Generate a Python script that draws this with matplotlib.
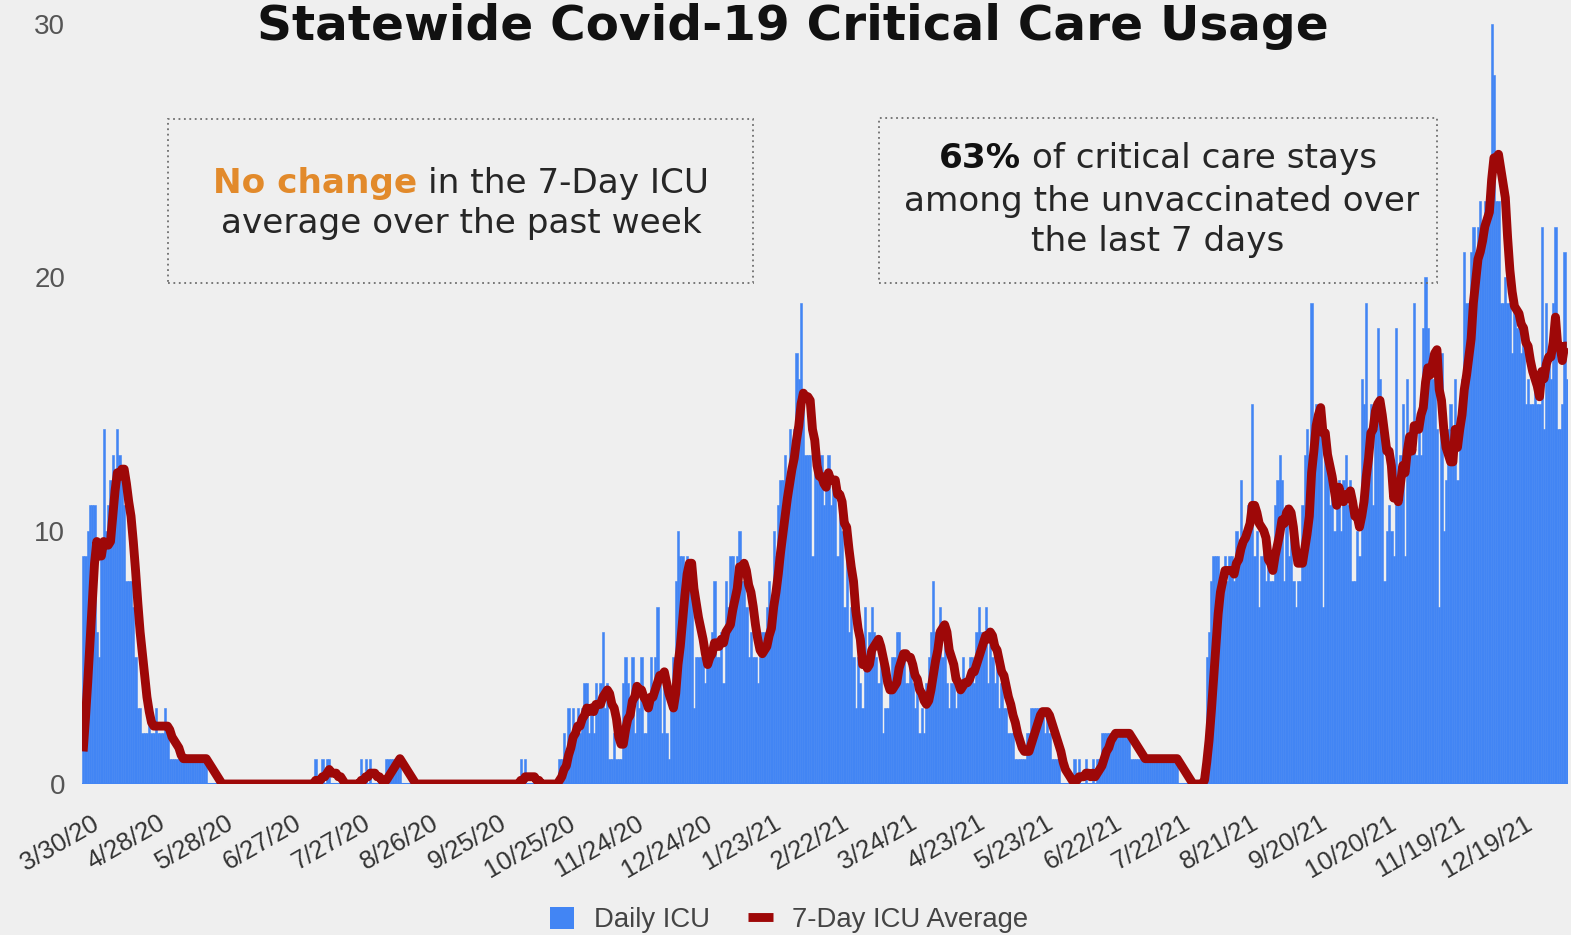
import numpy as np
import pandas as pd
import matplotlib
matplotlib.use("Agg")
import matplotlib.pyplot as plt
from matplotlib.patches import Rectangle, Patch
from matplotlib.lines import Line2D
from matplotlib.transforms import ScaledTranslation

# ---------------- data ----------------
start_date = "2020-03-30"

daily_icu = [
    # 0-59
    9, 9, 10, 11, 11, 11, 6, 5, 9, 14,
    10, 11, 12, 13, 12, 14, 13, 12, 11, 8,
    8, 8, 7, 5, 3, 3, 2, 2, 2, 3,
    2, 2, 3, 2, 2, 2, 3, 2, 1, 1,
    1, 1, 1, 1, 1, 1, 1, 1, 1, 1,
    1, 1, 1, 1, 1, 0, 0, 0, 0, 0,
    # 60-119
    0, 0, 0, 0, 0, 0, 0, 0, 0, 0,
    0, 0, 0, 0, 0, 0, 0, 0, 0, 0,
    0, 0, 0, 0, 0, 0, 0, 0, 0, 0,
    0, 0, 0, 0, 0, 0, 0, 0, 0, 0,
    0, 0, 1, 0, 0, 1, 0, 1, 1, 0,
    0, 0, 0, 0, 0, 0, 0, 0, 0, 0,
    # 120-179
    0, 0, 1, 0, 1, 0, 1, 0, 0, 0,
    0, 0, 0, 1, 1, 1, 1, 1, 1, 1,
    0, 0, 0, 0, 0, 0, 0, 0, 0, 0,
    0, 0, 0, 0, 0, 0, 0, 0, 0, 0,
    0, 0, 0, 0, 0, 0, 0, 0, 0, 0,
    0, 0, 0, 0, 0, 0, 0, 0, 0, 0,
    # 180-239
    0, 0, 0, 0, 0, 0, 0, 0, 0, 0,
    0, 0, 1, 0, 1, 0, 0, 0, 0, 0,
    0, 0, 0, 0, 0, 0, 0, 0, 0, 1,
    1, 2, 1, 3, 2, 3, 2, 3, 2, 3,
    4, 4, 2, 3, 2, 4, 3, 4, 6, 3,
    4, 1, 1, 2, 1, 1, 1, 4, 5, 4,
    # 240-299
    3, 5, 2, 4, 3, 5, 2, 2, 3, 5,
    4, 5, 7, 4, 2, 4, 2, 1, 3, 5,
    8, 10, 9, 9, 8, 9, 8, 8, 3, 5,
    5, 5, 6, 4, 5, 5, 6, 8, 5, 5,
    6, 4, 8, 7, 9, 9, 8, 9, 10, 8,
    8, 7, 5, 6, 5, 5, 4, 5, 6, 6,
    # 300-359
    7, 8, 7, 10, 9, 11, 12, 12, 13, 12,
    14, 13, 14, 17, 16, 19, 15, 13, 13, 13,
    9, 13, 12, 12, 13, 11, 12, 13, 11, 12,
    12, 9, 11, 10, 7, 10, 6, 7, 5, 3,
    5, 4, 3, 7, 5, 6, 7, 6, 5, 4,
    5, 2, 3, 3, 4, 5, 5, 6, 6, 5,
    # 360-419
    5, 4, 4, 5, 4, 3, 4, 2, 3, 2,
    4, 5, 6, 8, 6, 6, 7, 5, 6, 4,
    3, 4, 4, 3, 4, 4, 5, 4, 4, 5,
    5, 4, 6, 7, 6, 6, 7, 4, 6, 5,
    4, 5, 3, 4, 3, 3, 2, 2, 2, 1,
    1, 1, 1, 1, 2, 2, 3, 3, 3, 3,
    # 420-479
    3, 3, 2, 3, 2, 1, 1, 1, 1, 0,
    0, 0, 0, 0, 0, 1, 0, 1, 0, 0,
    1, 0, 0, 1, 0, 1, 1, 2, 2, 2,
    2, 2, 2, 2, 2, 2, 2, 2, 2, 2,
    1, 1, 1, 1, 1, 1, 1, 1, 1, 1,
    1, 1, 1, 1, 1, 1, 1, 1, 1, 1,
    # 480-539
    1, 0, 0, 0, 0, 0, 0, 0, 0, 0,
    0, 0, 1, 5, 6, 8, 9, 9, 9, 7,
    8, 9, 8, 9, 9, 8, 10, 9, 12, 10,
    10, 11, 10, 15, 9, 10, 7, 9, 10, 8,
    9, 8, 8, 11, 12, 13, 12, 8, 11, 9,
    10, 8, 7, 8, 8, 11, 13, 14, 13, 19,
    # 540-599
    14, 15, 14, 15, 7, 13, 13, 11, 12, 10,
    11, 12, 10, 12, 13, 11, 12, 8, 8, 10,
    9, 16, 15, 19, 13, 15, 11, 14, 18, 16,
    15, 8, 10, 11, 10, 9, 18, 12, 13, 15,
    9, 16, 13, 14, 19, 13, 14, 13, 18, 20,
    18, 17, 16, 17, 14, 7, 17, 10, 12, 14,
    # 600-651
    15, 14, 16, 12, 15, 16, 21, 19, 19, 21,
    22, 21, 22, 23, 22, 23, 23, 24, 30, 28,
    23, 23, 19, 19, 20, 19, 19, 17, 19, 18,
    18, 17, 18, 15, 16, 15, 15, 16, 15, 15,
    22, 14, 19, 17, 16, 19, 22, 14, 14, 15,
    21, 16,
]

tick_labels = ["3/30/20", "4/28/20", "5/28/20", "6/27/20", "7/27/20", "8/26/20",
               "9/25/20", "10/25/20", "11/24/20", "12/24/20", "1/23/21", "2/22/21",
               "3/24/21", "4/23/21", "5/23/21", "6/22/21", "7/22/21", "8/21/21",
               "9/20/21", "10/20/21", "11/19/21", "12/19/21"]
y_ticks = [0, 10, 20, 30]

title_text = "Statewide Covid-19 Critical Care Usage"
series_names = ["Daily ICU", "7-Day ICU Average"]

# ---------------- style ----------------
W, H = 1571, 935
BG = "#EFEFEF"
BLUE = "#4285F4"
RED = "#9E0808"
ORANGE = "#E28A2B"
TEXT = "#262626"

n = len(daily_icu)
x = np.arange(n)
avg = pd.Series(daily_icu, dtype=float).rolling(7, min_periods=1).sum() / 7.0
start = pd.Timestamp(start_date)
tick_pos = [(pd.to_datetime(t, format="%m/%d/%y") - start).days for t in tick_labels]

fig = plt.figure(figsize=(W / 100, H / 100), dpi=100, facecolor=BG)
ax = fig.add_axes([82 / W, 1 - 784 / H, (1568 - 82) / W, (784 - 24) / H])
ax.set_facecolor(BG)

ax.bar(x, daily_icu, width=1.0, color=BLUE, edgecolor=BLUE, linewidth=0.4, zorder=2)
ax.plot(x, avg, color=RED, lw=6.4, solid_joinstyle="round", solid_capstyle="butt", zorder=3)
ax.axhline(0, color=BLUE, lw=2.2, zorder=2.5)

ax.set_xlim(-0.5, n - 0.5)
ax.set_ylim(0, 30)
for s in ax.spines.values():
    s.set_visible(False)

ax.set_yticks(y_ticks)
ax.set_yticklabels([str(v) for v in y_ticks], fontsize=20, color="#555555",
                   family=["Liberation Sans", "DejaVu Sans"])
ax.tick_params(axis="y", length=0, pad=12)

ax.set_xticks(tick_pos)
ax.set_xticklabels(tick_labels, rotation=30, ha="right", va="center",
                   rotation_mode="anchor", fontsize=18.5, color="#333333",
                   family=["Liberation Sans", "DejaVu Sans"])
ax.tick_params(axis="x", length=0, pad=27)
off = ScaledTranslation(14 / 100, 0, fig.dpi_scale_trans)
for lab in ax.get_xticklabels():
    lab.set_transform(lab.get_transform() + off)

# legend
handles = [Patch(facecolor=BLUE, edgecolor="none"),
           Line2D([0], [0], color=RED, lw=6.4, solid_capstyle="butt")]
leg = fig.legend(handles, series_names, loc="center", ncol=2, frameon=False,
                 bbox_to_anchor=(789 / W, 15 / H), handlelength=0.9, handleheight=0.9,
                 handletextpad=0.7, columnspacing=1.4, borderaxespad=0, borderpad=0.2,
                 prop={"family": ["Liberation Sans", "DejaVu Sans"], "size": 19.8})
for t in leg.get_texts():
    t.set_color("#444444")

renderer = fig.canvas.get_renderer()

FONT = "DejaVu Sans"


def fit_size(s, target_w, weight="normal", family=FONT):
    t = fig.text(0, 0, s, fontsize=20, fontweight=weight, family=family)
    w = t.get_window_extent(renderer).width
    t.remove()
    return 20 * target_w / w


def width_of(s, size, weight="normal", family=FONT):
    t = fig.text(0, 0, s, fontsize=size, fontweight=weight, family=family)
    w = t.get_window_extent(renderer).width
    t.remove()
    return w


# title
tsize = fit_size(title_text, 1070, weight="bold")
fig.text(793 / W, 1 - 40 / H, title_text, fontsize=tsize, fontweight="bold",
         family=FONT, color="#111111", ha="center", va="baseline")

# annotation text
asize = fit_size("among the unvaccinated over", 514)
space_w = width_of("a a", asize) - width_of("aa", asize)


def rich_line(parts, cx, baseline_y):
    ws = [width_of(s, asize, weight=wt) for s, c, wt in parts]
    total = sum(ws) + space_w * (len(parts) - 1)
    xx = cx - total / 2
    for (s, c, wt), w in zip(parts, ws):
        fig.text(xx / W, 1 - baseline_y / H, s, fontsize=asize, fontweight=wt,
                 color=c, family=FONT, ha="left", va="baseline")
        xx += w + space_w


rich_line([("No change", ORANGE, "bold"), ("in the 7-Day ICU", TEXT, "normal")], 461, 193)
rich_line([("average over the past week", TEXT, "normal")], 461, 233)
rich_line([("63%", "#111111", "bold"), ("of critical care stays", TEXT, "normal")], 1158, 168)
rich_line([("among the unvaccinated over", TEXT, "normal")], 1162, 211)
rich_line([("the last 7 days", TEXT, "normal")], 1158, 251)

# dotted boxes
for (x0, y0, x1, y1) in [(168, 119, 753, 283), (879, 118, 1437, 283)]:
    fig.add_artist(Rectangle((x0 / W, 1 - y1 / H), (x1 - x0) / W, (y1 - y0) / H,
                             transform=fig.transFigure, fill=False, ec="#6E6E6E",
                             lw=1.3, ls=(0, (1, 2))))

fig.savefig("out.png", dpi=100, facecolor=BG)
